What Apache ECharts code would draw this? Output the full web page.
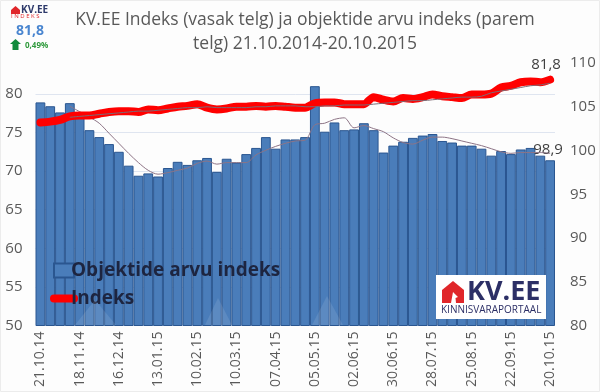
<!DOCTYPE html>
<html>
<head>
<meta charset="utf-8">
<script src="https://cdn.jsdelivr.net/npm/echarts@6/dist/echarts.min.js"></script>
<style>
html, body { margin: 0; padding: 0; background: #fff; }
#chart { width: 600px; height: 392px; }
</style>
</head>
<body>
<div id="chart"></div>
<script>
var weeks = [
    '21.10.14','28.10.14','04.11.14','11.11.14','18.11.14','25.11.14','02.12.14','09.12.14','16.12.14','23.12.14',
    '30.12.14','06.01.15','13.01.15','20.01.15','27.01.15','03.02.15','10.02.15','17.02.15','24.02.15','03.03.15',
    '10.03.15','17.03.15','24.03.15','31.03.15','07.04.15','14.04.15','21.04.15','28.04.15','05.05.15','12.05.15',
    '19.05.15','26.05.15','02.06.15','09.06.15','16.06.15','23.06.15','30.06.15','07.07.15','14.07.15','21.07.15',
    '28.07.15','04.08.15','11.08.15','18.08.15','25.08.15','01.09.15','08.09.15','15.09.15','22.09.15','29.09.15',
    '06.10.15','13.10.15','20.10.15'
];
var objektid = [
    78.9,78.4,77.6,78.8,77.3,75.3,74.4,73.5,72.5,70.7,
    69.4,69.7,69.3,70.4,71.2,70.8,71.4,71.7,69.9,71.6,
    71.1,72.2,73.0,74.4,72.9,74.1,74.1,74.4,81.0,75.1,
    76.3,75.3,75.4,76.2,75.3,72.4,73.3,73.8,74.3,74.6,
    74.8,73.9,73.7,73.3,73.3,72.9,72.0,72.6,72.2,72.8,
    73.0,72.0,71.4
];
var indeks = [
    103.2,103.3,103.5,103.9,104.0,104.0,104.2,104.4,104.5,104.5,
    104.4,104.7,104.6,104.8,105.0,105.1,105.3,104.9,104.7,104.8,
    105.0,105.0,105.1,105.0,105.1,105.0,104.9,104.9,105.4,105.5,
    105.5,105.3,105.3,105.3,106.1,105.8,105.6,106.0,105.9,106.1,
    106.4,106.2,106.1,106.0,106.4,106.4,106.5,107.2,107.4,107.8,
    107.9,107.8,108.1
];
var objektidTrend = [
    null,null,null,78.4,77.7,77.0,76.2,74.9,73.6,72.3,
    71.1,70.1,69.6,69.8,70.1,70.4,71.0,71.3,70.9,71.1,
    71.1,71.1,72.1,72.7,73.2,73.6,73.9,74.0,76.0,76.2,
    76.7,76.9,75.6,75.9,75.5,75.1,74.3,73.7,73.5,74.0,
    74.4,74.4,74.2,73.9,73.6,73.3,72.9,72.5,72.3,72.4,
    72.4,72.4,72.3
];
var indeksTrend = [
    null,null,null,103.8,103.9,104.0,104.1,104.2,104.3,104.4,
    104.5,104.5,104.6,104.7,104.8,104.9,104.9,105.0,104.9,104.9,
    104.9,104.9,105.0,105.0,105.1,105.1,105.1,105.0,105.0,105.1,
    105.1,105.2,105.2,105.2,105.3,105.4,105.5,105.6,105.7,105.7,
    105.8,105.9,106.0,106.1,106.1,106.2,106.6,106.8,107.0,107.2,
    107.4,107.5,107.7
];
var leftTicks = { min: 50, max: 84, step: 5 };
var rightTicks = { min: 80, max: 110, step: 5 };
var lastIndeksLabel = '81,8';
var lastObjektidLabel = '98,9';

var font = '"Open Sans", sans-serif';
var grey = '#595959';

function withLastLabel(values, text, offset) {
    return values.map(function (v, i) {
        if (i < values.length - 1) return v;
        return {
            value: v,
            label: { show: true, position: 'top', distance: 0, offset: offset, formatter: text, color: '#404040', fontFamily: font, fontSize: 15 }
        };
    });
}

var chart = echarts.init(document.getElementById('chart'));
chart.setOption({
    animation: false,
    backgroundColor: '#fdfdfd',
    textStyle: { fontFamily: font },
    title: {
        text: 'KV.EE Indeks (vasak telg) ja objektide arvu indeks (parem\ntelg) 21.10.2014-20.10.2015',
        left: 300,
        top: 3,
        textAlign: 'center',
        textStyle: { color: grey, fontFamily: font, fontSize: 17.5, fontWeight: 'normal', lineHeight: 24 }
    },
    legend: {
        data: [
            { name: 'Objektide arvu indeks', icon: 'rect' },
            { name: 'Indeks', itemStyle: { opacity: 0 }, lineStyle: { width: 8, cap: 'round', color: '#ff0000' } }
        ],
        orient: 'vertical',
        left: 45,
        top: 256,
        itemWidth: 20,
        itemHeight: 14,
        itemGap: 9,
        textStyle: { color: '#1d2540', fontFamily: font, fontSize: 19, fontWeight: 'bold', padding: [0, 0, 0, -8] }
    },
    grid: { left: 35.5, right: 45, top: 63, bottom: 66.5 },
    xAxis: {
        type: 'category',
        data: weeks,
        axisLine: { show: false },
        axisTick: { show: false },
        axisLabel: { interval: 3, rotate: 90, color: grey, fontSize: 14, fontFamily: font, margin: 6 }
    },
    yAxis: [{
        type: 'value',
        min: leftTicks.min,
        max: leftTicks.max,
        interval: leftTicks.step,
        axisLine: { show: false },
        axisTick: { show: false },
        axisLabel: { color: grey, fontSize: 15, fontFamily: font, showMaxLabel: false, margin: 13 },
        splitLine: { show: true, showMaxLine: false, lineStyle: { color: '#dfe5f0', width: 1 } }
    }, {
        type: 'value',
        min: rightTicks.min,
        max: rightTicks.max,
        interval: rightTicks.step,
        axisLine: { show: false },
        axisTick: { show: false },
        axisLabel: { color: grey, fontSize: 15, fontFamily: font, margin: 15 },
        splitLine: { show: false }
    }],
    series: [{
        name: 'Objektide arvu indeks',
        type: 'bar',
        yAxisIndex: 0,
        barCategoryGap: '0%',
        itemStyle: { color: '#4a7dba', borderColor: '#2a5690', borderWidth: 1 },
        data: withLastLabel(objektid, lastObjektidLabel, [-2, -3])
    }, {
        type: 'line',
        yAxisIndex: 0,
        silent: true,
        smooth: 0.3,
        symbol: 'none',
        z: 3,
        lineStyle: { color: '#8d7486', width: 1 },
        data: objektidTrend
    }, {
        name: 'Indeks',
        type: 'line',
        yAxisIndex: 1,
        smooth: 0.3,
        symbol: 'none',
        z: 4,
        lineStyle: { color: '#ff0000', width: 8, cap: 'round' },
        itemStyle: { color: '#ff0000' },
        endLabel: {
            show: true,
            formatter: lastIndeksLabel,
            color: '#404040',
            fontFamily: font,
            fontSize: 15,
            align: 'center',
            offset: [-12, -15]
        },
        data: indeks
    }, {
        type: 'line',
        yAxisIndex: 1,
        silent: true,
        smooth: 0.3,
        symbol: 'none',
        z: 5,
        lineStyle: { color: '#7d6a75', width: 1 },
        data: indeksTrend
    }],
    graphic: [
        // frame
        { type: 'rect', shape: { x: 0.5, y: 0.5, width: 599, height: 391 }, style: { fill: 'none', stroke: '#ececec' }, z: 1 },
        // watermark on the bars
        { type: 'polygon', shape: { points: [[75, 325], [95, 300], [116, 325]] }, style: { fill: '#ffffff', opacity: 0.1 }, z: 6 },
        { type: 'polygon', shape: { points: [[205, 325], [218, 298], [232, 325]] }, style: { fill: '#ffffff', opacity: 0.1 }, z: 6 },
        { type: 'polygon', shape: { points: [[312, 325], [327, 296], [343, 325]] }, style: { fill: '#ffffff', opacity: 0.1 }, z: 6 },
        // top left badge
        { type: 'polygon', shape: { points: [[11, 14], [11, 10], [15.5, 6], [20, 10], [20, 14]] }, style: { fill: '#e0262a' }, z: 10 },
        { type: 'text', x: 21, y: 5, style: { text: 'KV.EE', fill: '#2e3a6b', font: 'bold 10px ' + font }, z: 10 },
        { type: 'text', x: 11, y: 13, style: { text: 'I N D E K S', fill: '#e0262a', font: '6px ' + font }, z: 10 },
        { type: 'text', x: 16, y: 24, style: { text: '81,8', fill: '#4a86d0', font: 'bold 14px ' + font }, z: 10 },
        { type: 'polygon', shape: { points: [[10, 44], [15.5, 39], [21, 44], [18.5, 44], [18.5, 50], [12.5, 50], [12.5, 44]] }, style: { fill: '#108a3c' }, z: 10 },
        { type: 'text', x: 25, y: 42, style: { text: '0,49%', fill: '#2f9a3c', font: 'bold 8px ' + font }, z: 10 },
        // KV.EE logo
        { type: 'rect', shape: { x: 436, y: 275, width: 110, height: 44 }, style: { fill: '#ffffff' }, z: 10 },
        { type: 'polygon', shape: { points: [[442, 303], [442, 290], [453, 281], [464, 290], [464, 303]] }, style: { fill: '#e0262a' }, z: 11 },
        { type: 'polygon', shape: { points: [[451, 303], [453, 292], [458, 297], [455.5, 298], [456, 303]] }, style: { fill: '#ffffff' }, z: 12 },
        { type: 'text', x: 467, y: 279, style: { text: 'KV.EE', fill: '#2c2f66', font: 'bold 27px ' + font }, z: 11 },
        { type: 'text', x: 441, y: 305, style: { text: 'KINNISVARAPORTAAL', fill: '#2c2f66', font: '10px ' + font }, z: 11 }
    ]
});
</script>
</body>
</html>
